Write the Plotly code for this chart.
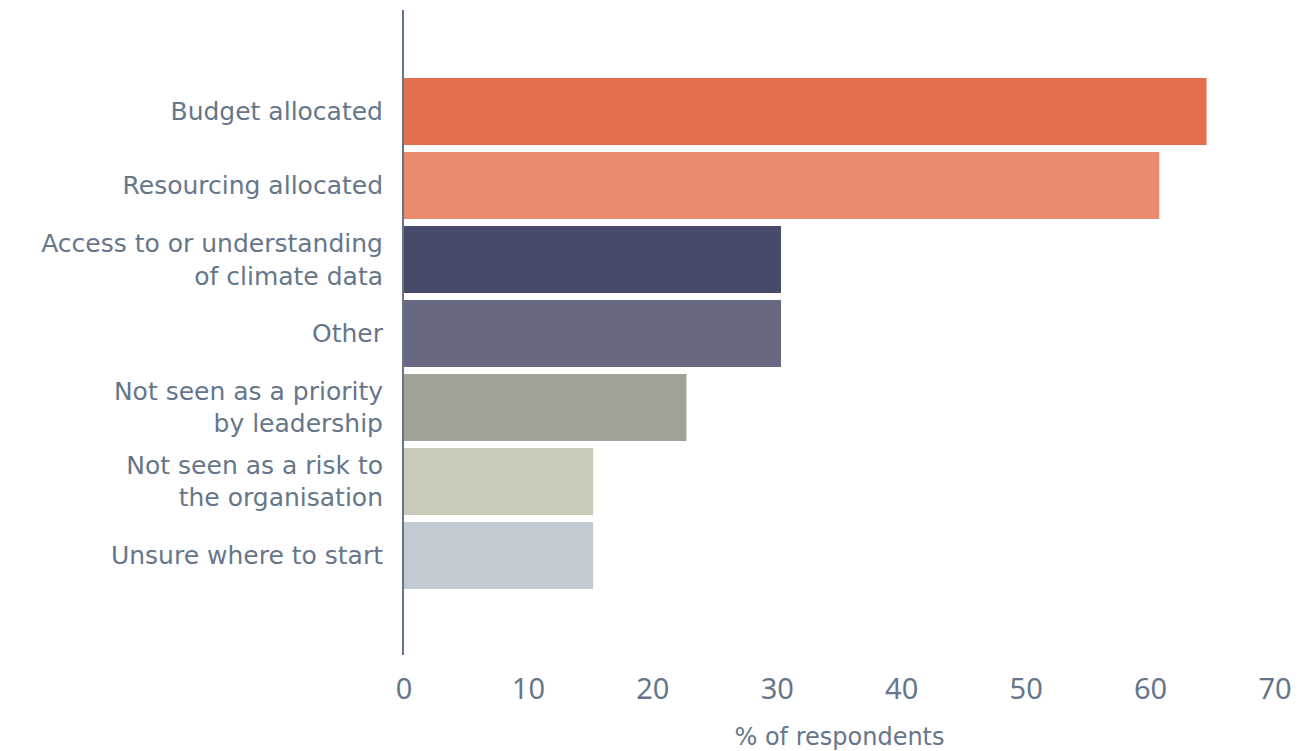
import plotly.graph_objects as go

categories = [
    "Budget allocated",
    "Resourcing allocated",
    "Access to or understanding<br>of climate data",
    "Other",
    "Not seen as a priority<br>by leadership",
    "Not seen as a risk to<br>the organisation",
    "Unsure where to start",
]
values = [64.5, 60.7, 30.3, 30.3, 22.7, 15.2, 15.2]
colors = ["#E2704F", "#E98B6E", "#474A68", "#676882", "#9DA295", "#C6CAB6", "#C2CAD2"]
x_ticks = [0, 10, 20, 30, 40, 50, 60, 70]

text_color = "#66768A"
font_family = "DejaVu Sans, Poppins, sans-serif"

fig = go.Figure(
    go.Bar(
        x=values,
        y=categories,
        orientation="h",
        marker=dict(color=colors, line=dict(width=0)),
        width=0.905,
        hoverinfo="x+y",
    )
)

fig.update_layout(
    width=1306,
    height=743,
    paper_bgcolor="white",
    plot_bgcolor="white",
    margin=dict(l=396, r=39, t=2, b=96),
    showlegend=False,
    font=dict(family=font_family, color=text_color),
)

fig.update_xaxes(
    range=[0, 70],
    tickvals=x_ticks,
    showgrid=False,
    zeroline=False,
    showline=False,
    ticks="",
    tickfont=dict(family="Noto Sans, sans-serif", size=29, color=text_color),
    ticklabelstandoff=14,
    title=dict(text="% of respondents", font=dict(size=24, color=text_color), standoff=25),
)

fig.update_yaxes(
    categoryorder="array",
    categoryarray=categories,
    range=[7.345, -1.372],
    showgrid=False,
    zeroline=False,
    showline=True,
    linecolor="#66738A",
    linewidth=2,
    ticks="",
    tickfont=dict(size=25, color=text_color),
    ticklabelstandoff=14,
)

fig.write_html("out.html")
